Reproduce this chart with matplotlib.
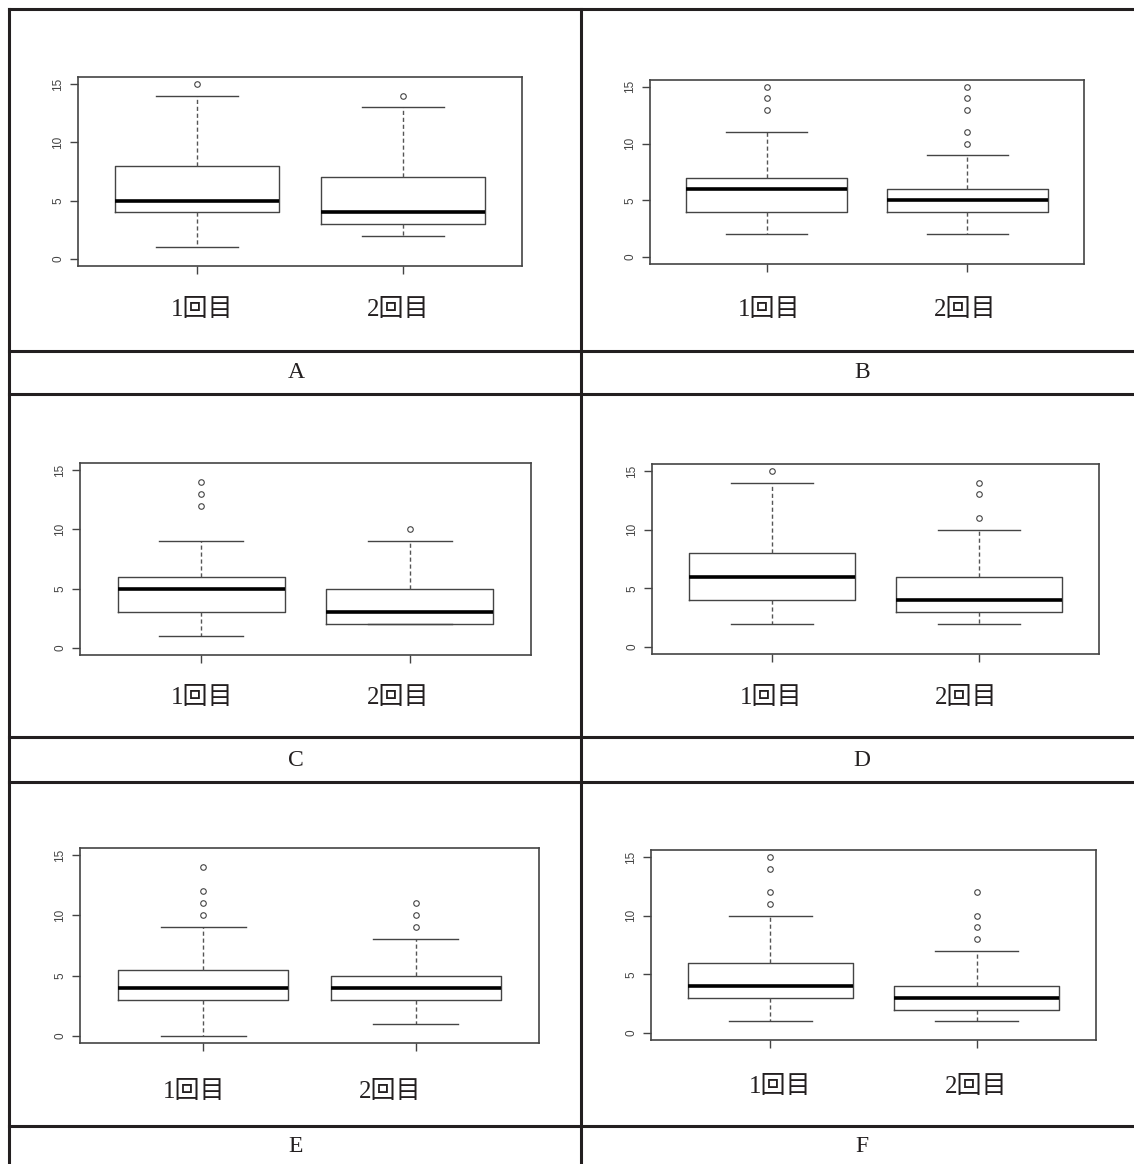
import matplotlib
matplotlib.use("Agg")
import matplotlib.pyplot as plt

# Box-plot summaries:
# [lower whisker, Q1, median, Q3, upper whisker] for 1回目 and 2回目
session_labels = ["1回目", "2回目"]
panel_names = ["A", "B", "C", "D", "E", "F"]

stats_A = [[1, 4, 5, 8, 14], [2, 3, 4, 7, 13]]
outliers_A = [[15], [14]]
stats_B = [[2, 4, 6, 7, 11], [2, 4, 5, 6, 9]]
outliers_B = [[13, 14, 15], [10, 11, 13, 14, 15]]
stats_C = [[1, 3, 5, 6, 9], [2, 2, 3, 5, 9]]
outliers_C = [[12, 13, 14], [10]]
stats_D = [[2, 4, 6, 8, 14], [2, 3, 4, 6, 10]]
outliers_D = [[15], [11, 13, 14]]
stats_E = [[0, 3, 4, 5.5, 9], [1, 3, 4, 5, 8]]
outliers_E = [[10, 11, 12, 14], [9, 10, 11]]
stats_F = [[1, 3, 4, 6, 10], [1, 2, 3, 4, 7]]
outliers_F = [[11, 12, 14, 15], [8, 9, 10, 12]]

all_stats = [stats_A, stats_B, stats_C, stats_D, stats_E, stats_F]
all_outliers = [outliers_A, outliers_B, outliers_C, outliers_D, outliers_E, outliers_F]

W, H = 1134, 1164
fig = plt.figure(figsize=(W / 100, H / 100), dpi=100)
fig.patch.set_facecolor("white")

# plot frames in pixels: left, right, top, bottom
frames = [
    (78, 522, 77, 266),
    (650, 1084, 80, 264),
    (80, 531, 463, 655),
    (652, 1099, 464, 654),
    (80, 539, 848, 1043),
    (651, 1096, 850, 1040),
]
# label positions in pixels
session_xy = [
    ((202, 310), (398, 310)),
    ((769, 310), (965, 310)),
    ((202, 698), (398, 698)),
    ((771, 698), (966, 698)),
    ((194, 1092), (390, 1092)),
    ((780, 1087), (976, 1087)),
]
letter_xy = [(296, 373), (862, 373), (296, 760), (862, 760), (296, 1146), (862, 1146)]

ink = "#231f20"
grey = "#444444"

for i in range(6):
    l, r, t, b = frames[i]
    ax = fig.add_axes([l / W, 1 - b / H, (r - l) / W, (b - t) / H])
    bxp_stats = []
    for j in range(2):
        s = all_stats[i][j]
        bxp_stats.append(dict(whislo=s[0], q1=s[1], med=s[2], q3=s[3], whishi=s[4],
                              fliers=all_outliers[i][j]))
    ax.bxp(bxp_stats, positions=[1, 2], widths=0.8, capwidths=0.4,
           boxprops=dict(color=grey, linewidth=1.0),
           medianprops=dict(color="black", linewidth=2.6),
           whiskerprops=dict(color="#555555", linewidth=1.0, linestyle=(0, (3, 2))),
           capprops=dict(color=grey, linewidth=1.0),
           flierprops=dict(marker="o", markerfacecolor="none", markeredgecolor=grey,
                           markersize=4, markeredgewidth=0.8))
    ax.set_xlim(0.42, 2.58)
    ax.set_ylim(-0.6, 15.6)
    ax.set_yticks([0, 5, 10, 15])
    ax.set_yticklabels(["0", "5", "10", "15"], rotation=90, va="center",
                       fontsize=8.5, color="#444444", family="Liberation Sans")
    ax.set_xticks([1, 2])
    ax.set_xticklabels(["", ""])
    ax.tick_params(length=6, width=1.0, color=grey, pad=4)
    for sp in ax.spines.values():
        sp.set_color(grey)
        sp.set_linewidth(1.2)

    for (x, y), txt in zip(session_xy[i], session_labels):
        fig.text(x / W, 1 - y / H, txt, ha="center", va="center", fontsize=18,
                 color=ink, family=["Liberation Serif", "Noto Sans CJK JP"])
    lx, ly = letter_xy[i]
    fig.text(lx / W, 1 - ly / H, panel_names[i], ha="center", va="center",
             fontsize=17, color=ink, family="Liberation Serif")

# table rules
lw = 2.2
for y in [9, 351, 394, 737, 782, 1126]:
    fig.add_artist(plt.Line2D([9 / W, 1], [1 - y / H, 1 - y / H], color=ink, linewidth=lw))
for x in [9, 581]:
    fig.add_artist(plt.Line2D([x / W, x / W], [1 - 9 / H, 0], color=ink, linewidth=lw))

fig.savefig("out.png", dpi=100)
